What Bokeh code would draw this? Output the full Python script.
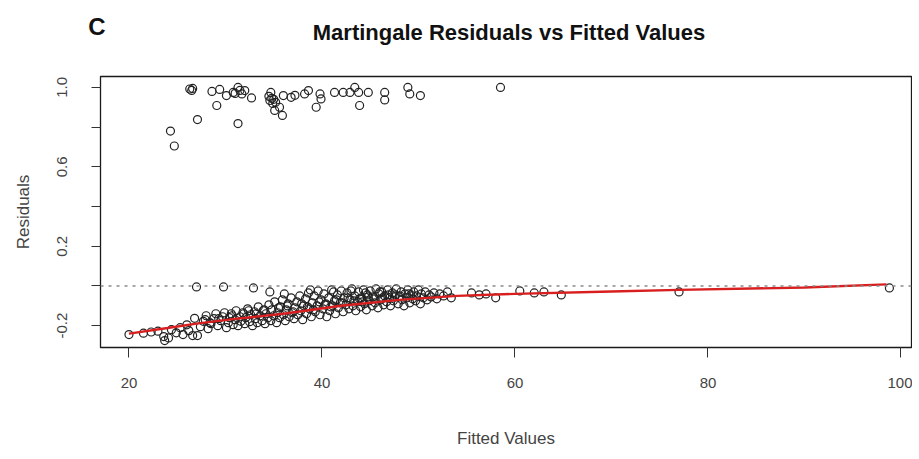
from bokeh.plotting import figure
from bokeh.models import FixedTicker, Span, Range1d, Div
from bokeh.layouts import column
from bokeh.embed import file_html
from bokeh.resources import INLINE

# ---------------- data ----------------
x_ticks = [20, 40, 60, 80, 100]
y_ticks = [-0.2, 0.0, 0.2, 0.4, 0.6, 0.8, 1.0]
y_tick_labels = {-0.2: "-0.2", 0.0: "", 0.2: "0.2", 0.4: "", 0.6: "0.6", 0.8: "", 1.0: "1.0"}

# event cases (residuals near 1)
upper_x = [26.3, 26.5, 26.6, 28.6, 29.4, 29.1, 30.1, 30.8, 31.3, 31.5, 31.7, 32.0, 32.7, 27.1, 31.3,
           24.3, 24.7, 34.7, 34.6, 34.9, 35.1, 35.9, 35.6, 36.0, 36.8, 34.8, 35.2, 38.2, 38.6, 39.4,
           39.8, 39.9, 41.3, 42.2, 42.9, 43.4, 43.8, 43.9, 44.8, 46.5, 46.5, 48.9, 49.1, 50.2, 58.5,
           31.0, 34.5, 35.0, 37.2]
upper_y = [0.992, 0.985, 0.995, 0.980, 0.990, 0.909, 0.959, 0.975, 1.000, 0.985, 0.967, 0.984, 0.947, 0.838, 0.818,
           0.780, 0.705, 0.975, 0.934, 0.919, 0.884, 0.859, 0.900, 0.959, 0.950, 0.945, 0.925, 0.967, 0.984, 0.900,
           0.967, 0.942, 0.975, 0.975, 0.975, 1.000, 0.975, 0.909, 0.975, 0.975, 0.937, 1.000, 0.967, 0.959, 1.000,
           0.970, 0.955, 0.940, 0.960]

# censored cases (dense lower band)
lower_x = [20.0, 21.5, 22.3, 23.0, 23.6, 24.1, 24.4, 24.9, 25.3, 25.6, 26.0, 26.2, 26.8, 27.1, 27.4, 27.7,
           28.0, 28.2, 28.5, 28.8, 29.0, 29.2, 29.5, 29.7, 29.9, 30.1, 30.3, 30.4, 30.6, 30.8, 31.0, 31.1,
           31.3, 31.5, 31.6, 31.8, 32.0, 32.1, 32.3, 32.5, 32.6, 32.8, 33.0, 33.1, 33.3, 33.4, 33.6, 33.8,
           33.9, 34.1, 34.2, 34.4, 34.5, 34.7, 34.8, 35.0, 35.1, 35.3, 35.4, 35.6, 35.7, 35.9, 36.0, 36.2,
           36.3, 36.5, 36.6, 36.8, 36.9, 37.1, 37.2, 37.4, 37.5, 37.7, 37.8, 38.0, 38.1, 38.3, 38.4, 38.6,
           38.7, 38.9, 39.0, 39.2, 39.3, 39.5, 39.6, 39.8, 39.9, 40.1, 40.2, 40.4, 40.5, 40.7, 40.8, 41.0,
           41.1, 41.3, 41.4, 41.6, 41.7, 41.9, 42.0, 42.2, 42.3, 42.5, 42.6, 42.8, 42.9, 43.1, 43.2, 43.4,
           43.5, 43.7, 43.8, 44.0, 44.1, 44.3, 44.4, 44.6, 44.7, 44.9, 45.0, 45.2, 45.3, 45.5, 45.6, 45.8,
           45.9, 46.1, 46.2, 46.4, 46.5, 46.7, 46.8, 47.0, 47.1, 47.3, 47.4, 47.6, 47.7, 47.9, 48.0, 48.2,
           48.3, 48.5, 48.6, 48.8, 48.9, 49.1, 49.2, 49.4, 49.5, 49.7, 49.8, 50.0, 50.2, 50.3, 50.5, 50.7,
           50.9, 51.1, 51.3, 51.6, 51.9, 52.2, 52.6, 53.0, 53.4,
           23.7, 26.6, 27.0, 29.8, 32.9, 34.6, 36.1, 38.8, 41.2, 43.0, 44.5, 46.0,
           33.2, 34.0, 35.5, 36.4, 37.0, 37.9, 38.5, 39.1, 39.7, 40.3, 40.9, 41.5, 42.1, 42.7, 43.3, 43.9,
           44.2, 44.8, 45.4, 46.3, 46.9, 47.5, 48.1, 49.0, 29.3, 30.7, 31.9, 32.4, 28.4, 27.9,
           55.5, 56.3, 57.0, 58.0, 60.5, 62.0, 63.0, 64.8, 77.0, 98.8]
lower_y = [-0.245, -0.238, -0.232, -0.228, -0.255, -0.262, -0.220, -0.236, -0.210, -0.245, -0.196, -0.225, -0.163, -0.250, -0.205, -0.178,
           -0.150, -0.215, -0.190, -0.165, -0.140, -0.200, -0.175, -0.155, -0.135, -0.210, -0.185, -0.160, -0.140, -0.195, -0.170, -0.125,
           -0.200, -0.155, -0.178, -0.135, -0.190, -0.160, -0.115, -0.180, -0.145, -0.200, -0.130, -0.165, -0.185, -0.105, -0.150, -0.175,
           -0.125, -0.190, -0.140, -0.160, -0.095, -0.175, -0.120, -0.150, -0.080, -0.185, -0.135, -0.160, -0.105, -0.070, -0.145, -0.175,
           -0.120, -0.090, -0.155, -0.060, -0.135, -0.165, -0.110, -0.080, -0.145, -0.050, -0.125, -0.170, -0.100, -0.065, -0.140, -0.035,
           -0.115, -0.155, -0.085, -0.050, -0.130, -0.100, -0.025, -0.145, -0.070, -0.115, -0.040, -0.090, -0.155, -0.060, -0.125, -0.020,
           -0.100, -0.075, -0.140, -0.045, -0.110, -0.085, -0.025, -0.130, -0.060, -0.095, -0.035, -0.115, -0.070, -0.015, -0.100, -0.050,
           -0.125, -0.080, -0.030, -0.105, -0.060, -0.020, -0.090, -0.120, -0.045, -0.075, -0.025, -0.100, -0.055, -0.085, -0.015, -0.110,
           -0.040, -0.070, -0.030, -0.095, -0.050, -0.080, -0.020, -0.060, -0.100, -0.035, -0.075, -0.045, -0.015, -0.090, -0.055, -0.030,
           -0.070, -0.100, -0.040, -0.060, -0.020, -0.085, -0.045, -0.065, -0.030, -0.075, -0.050, -0.020, -0.090, -0.040, -0.060, -0.030,
           -0.070, -0.045, -0.055, -0.035, -0.065, -0.040, -0.050, -0.030, -0.060,
           -0.275, -0.250, -0.005, -0.005, -0.010, -0.030, -0.040, -0.020, -0.030, -0.025, -0.035, -0.030,
           -0.140, -0.120, -0.110, -0.100, -0.130, -0.090, -0.105, -0.120, -0.080, -0.095, -0.105, -0.070, -0.085, -0.060, -0.075, -0.065,
           -0.080, -0.055, -0.065, -0.060, -0.045, -0.055, -0.050, -0.040, -0.165, -0.150, -0.140, -0.125, -0.185, -0.170,
           -0.035, -0.045, -0.040, -0.060, -0.025, -0.035, -0.030, -0.045, -0.030, -0.010]

# smoother through the residuals
fit_x = [20, 24, 27, 31, 36, 42, 48, 54, 60, 70, 77, 90, 98.5]
fit_y = [-0.240, -0.212, -0.190, -0.166, -0.140, -0.100, -0.070, -0.050, -0.040, -0.028, -0.020, -0.008, 0.008]

title_text = "Martingale Residuals vs Fitted Values"
panel_text = "C"
x_label = "Fitted Values"
y_label = "Residuals"

# ---------------- layout ----------------
X0, X1 = 17.05, 101.09
Y0, Y1 = -0.31, 1.055
W = 912
HEAD = 52
H = 398
ML, MT, MB, MR = 100, 24, 100, 1

header = Div(
    width=W, height=HEAD, margin=(0, 0, 0, 0),
    text=(
        '<div style="position:relative;width:%dpx;height:%dpx;font-family:\'Liberation Sans\',Arial,sans-serif;color:#111">'
        '<span style="position:absolute;left:97px;top:14px;transform:translateX(-50%%);'
        'font-size:24px;line-height:26px;font-weight:bold;">%s</span>'
        '<span style="position:absolute;left:509px;top:20px;transform:translateX(-50%%);white-space:nowrap;'
        'font-size:22px;line-height:26px;font-weight:bold;">%s</span>'
        '</div>' % (W, HEAD, panel_text, title_text)
    ),
)

p = figure(width=W, height=H, output_backend="svg", toolbar_location=None,
           x_range=Range1d(X0, X1), y_range=Range1d(Y0, Y1),
           min_border_left=ML, min_border_top=MT, min_border_bottom=MB, min_border_right=MR,
           background_fill_color="white", border_fill_color="white", margin=(0, 0, 0, 0))
p.grid.visible = False
p.outline_line_color = "#1a1a1a"
p.outline_line_width = 1.3

# axes
xa = p.xaxis[0]
xa.ticker = FixedTicker(ticks=x_ticks)
xa.axis_line_color = None
xa.major_tick_out = 10
xa.major_tick_in = 0
xa.minor_tick_line_color = None
xa.major_tick_line_color = "#333333"
xa.major_label_text_font = "Liberation Sans"
xa.major_label_text_font_size = "15px"
xa.major_label_text_color = "#444444"
xa.major_label_standoff = 20
xa.axis_label = x_label
xa.axis_label_text_font = "Liberation Sans"
xa.axis_label_text_font_style = "normal"
xa.axis_label_text_font_size = "17px"
xa.axis_label_text_color = "#444444"
xa.axis_label_standoff = 38

ya = p.yaxis[0]
ya.ticker = FixedTicker(ticks=y_ticks)
ya.major_label_overrides = y_tick_labels
ya.major_label_orientation = "vertical"
ya.axis_line_color = None
ya.major_tick_out = 9
ya.major_tick_in = 0
ya.minor_tick_line_color = None
ya.major_tick_line_color = "#333333"
ya.major_label_text_font = "Liberation Sans"
ya.major_label_text_font_size = "15px"
ya.major_label_text_color = "#444444"
ya.major_label_standoff = 24
ya.axis_label = y_label
ya.axis_label_text_font = "Liberation Sans"
ya.axis_label_text_font_style = "normal"
ya.axis_label_text_font_size = "17px"
ya.axis_label_text_color = "#444444"
ya.axis_label_standoff = 22

# reference line at 0
p.add_layout(Span(location=0, dimension="width", line_color="#8a8a8a",
                  line_dash="3 5", line_width=1.5))

# points
p.scatter(upper_x, upper_y, marker="circle", size=8, fill_color=None,
          line_color="#222222", line_width=1.2)
p.scatter(lower_x, lower_y, marker="circle", size=8, fill_color=None,
          line_color="#222222", line_width=1.2)

# smoother
p.line(fit_x, fit_y, line_color="#d81e1e", line_width=2.4)

layout = column(header, p, spacing=0)
open("out.html", "w").write(file_html(layout, INLINE))
